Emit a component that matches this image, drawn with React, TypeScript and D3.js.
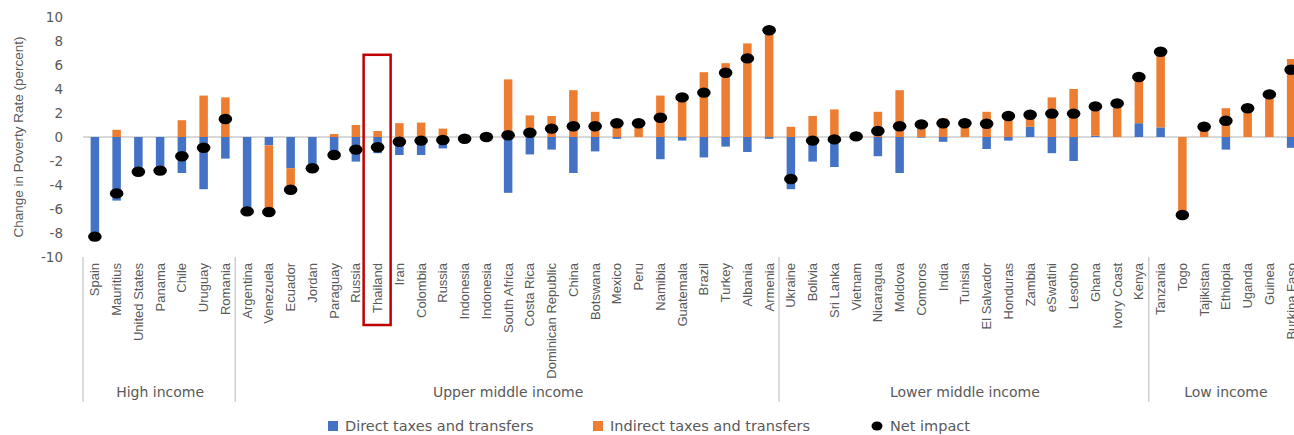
import React from 'react';
import * as d3 from 'd3';

// country order as it appears on the axis (duplicates are kept as in the source)
const categories = [
  'Spain', 'Mauritius', 'United States', 'Panama', 'Chile', 'Uruguay', 'Romania',
  'Argentina', 'Venezuela', 'Ecuador', 'Jordan', 'Paraguay', 'Russia', 'Thailand', 'Iran',
  'Colombia', 'Russia', 'Indonesia', 'Indonesia', 'South Africa', 'Costa Rica',
  'Dominican Republic', 'China', 'Botswana', 'Mexico', 'Peru', 'Namibia', 'Guatemala',
  'Brazil', 'Turkey', 'Albania', 'Armenia',
  'Ukraine', 'Bolivia', 'Sri Lanka', 'Vietnam', 'Nicaragua', 'Moldova', 'Comoros', 'India',
  'Tunisia', 'El Salvador', 'Honduras', 'Zambia', 'eSwatini', 'Lesotho', 'Ghana',
  'Ivory Coast', 'Kenya',
  'Tanzania', 'Togo', 'Tajikistan', 'Ethiopia', 'Uganda', 'Guinea', 'Burkina Faso',
];

const groupNames = ['High income', 'Upper middle income', 'Lower middle income', 'Low income'];
const groupSizes = [7, 25, 17, 7];

const direct = [
  -8.3, -5.3, -2.9, -2.8, -3.0, -4.35, -1.8,
  -6.2, -0.7, -2.6, -2.6, -1.7, -2.05, -1.35, -1.5,
  -1.5, -0.95, -0.2, -0.05, -4.65, -1.45,
  -1.05, -3.0, -1.2, -0.15, 0, -1.85, -0.3,
  -1.7, -0.8, -1.25, -0.15,
  -4.35, -2.05, -2.5, -0.05, -1.6, -3.0, -0.05, -0.4,
  0, -1.0, -0.3, 0.85, -1.35, -2.0, 0.1,
  0, 1.15,
  0.8, 0, 0, -1.05, 0, 0, -0.9,
];

const indirect = [
  0, 0.6, 0, 0, 1.4, 3.45, 3.3,
  0, -5.5, -1.8, 0, 0.25, 1.0, 0.5, 1.15,
  1.2, 0.7, 0.05, 0.05, 4.8, 1.8,
  1.75, 3.9, 2.1, 1.3, 1.15, 3.45, 3.6,
  5.4, 6.15, 7.8, 9.05,
  0.85, 1.75, 2.3, 0.1, 2.1, 3.9, 1.1, 1.55,
  1.15, 2.1, 2.05, 1.0, 3.3, 4.0, 2.45,
  2.8, 3.85,
  6.3, -6.5, 0.85, 2.4, 2.4, 3.55, 6.5,
];

const net = [
  -8.3, -4.7, -2.9, -2.8, -1.6, -0.9, 1.5,
  -6.2, -6.25, -4.4, -2.6, -1.5, -1.05, -0.85, -0.4,
  -0.3, -0.25, -0.15, 0.0, 0.15, 0.35,
  0.7, 0.9, 0.9, 1.15, 1.15, 1.6, 3.3,
  3.7, 5.35, 6.55, 8.9,
  -3.5, -0.3, -0.2, 0.05, 0.5, 0.9, 1.05, 1.15,
  1.15, 1.1, 1.75, 1.85, 1.95, 1.95, 2.55,
  2.8, 5.0,
  7.1, -6.5, 0.85, 1.35, 2.4, 3.55, 5.6,
];

const yTicks = [-10, -8, -6, -4, -2, 0, 2, 4, 6, 8, 10];

const seriesKeys = ['direct', 'indirect'];
const seriesLabels = ['Direct taxes and transfers', 'Indirect taxes and transfers'];
const seriesColors = ['#4472C4', '#ED7D31'];

const highlighted = 'Thailand';

const W = 1294;
const H = 435;
const grey = '#595959';

export default function App() {
  const idx = categories.map((_, i) => i);

  const x = d3.scaleBand<number>().domain(idx).range([84, 1302]).padding(0);
  const y = d3.scaleLinear().domain([-10, 10]).range([257, 17]);
  const bw = 8.5;
  const cx = (i: number) => (x(i) as number) + x.bandwidth() / 2;

  const rows = idx.map(i => ({ direct: direct[i], indirect: indirect[i] }));
  const stacked = d3.stack<any>().keys(seriesKeys).offset(d3.stackOffsetDiverging)(rows);

  // group boundaries along the x axis
  let acc = 0;
  const groups = groupNames.map((name, g) => {
    const start = acc;
    acc += groupSizes[g];
    return { name, start, end: acc };
  });
  const edge = (k: number) => (k < categories.length ? (x(k) as number) : x.range()[1]);

  const hi = categories.indexOf(highlighted);
  const legendY = 426;

  return (
    <svg width={W} height={H} style={{ position: 'absolute', left: 0, top: 0, background: '#fff' }}>
      {/* y axis title */}
      <text
        transform={`translate(18,${y(0)}) rotate(-90)`}
        textAnchor="middle"
        dominantBaseline="central"
        fontFamily="Liberation Sans, Arial, sans-serif"
        fontSize={13.5}
        fill={grey}
      >
        Change in Poverty Rate (percent)
      </text>

      {/* y tick labels */}
      {yTicks.map(t => (
        <text
          key={t}
          x={63}
          y={y(t)}
          textAnchor="end"
          dominantBaseline="central"
          fontFamily="DejaVu Sans, sans-serif"
          fontSize={13.5}
          fill={grey}
        >
          {t}
        </text>
      ))}

      {/* zero line */}
      <line x1={83} x2={W} y1={y(0)} y2={y(0)} stroke="#D9D9D9" strokeWidth={1.8} />

      {/* stacked bars */}
      {stacked.map((s, si) => (
        <g key={s.key} fill={seriesColors[si]}>
          {s.map((d, i) => {
            const top = y(Math.max(d[0], d[1]));
            const bot = y(Math.min(d[0], d[1]));
            if (bot - top <= 0) return null;
            return <rect key={i} x={cx(i) - bw / 2} y={top} width={bw} height={bot - top} />;
          })}
        </g>
      ))}

      {/* net impact */}
      {net.map((v, i) => (
        <ellipse key={i} cx={cx(i)} cy={y(v)} rx={6.8} ry={5.2} fill="#000" />
      ))}

      {/* category labels */}
      {categories.map((c, i) => (
        <text
          key={i}
          transform={`translate(${cx(i)},263) rotate(-90)`}
          textAnchor="end"
          dominantBaseline="central"
          fontFamily="Liberation Sans, Arial, sans-serif"
          fontSize={13}
          fill={grey}
        >
          {c}
        </text>
      ))}

      {/* group separators and labels */}
      {groups.map(g => (
        <g key={g.name}>
          <line x1={edge(g.start) - 1} x2={edge(g.start) - 1} y1={257} y2={402} stroke="#D0D0D0" strokeWidth={1.5} />
          <text
            x={(edge(g.start) + edge(g.end)) / 2}
            y={392}
            textAnchor="middle"
            dominantBaseline="central"
            fontFamily="DejaVu Sans, sans-serif"
            fontSize={14}
            fill={grey}
          >
            {g.name}
          </text>
        </g>
      ))}

      {/* highlight box */}
      <rect
        x={cx(hi) - 14}
        y={y(6.85)}
        width={27}
        height={325 - y(6.85)}
        fill="none"
        stroke="#C00000"
        strokeWidth={2.5}
      />

      {/* legend */}
      <g fontFamily="DejaVu Sans, sans-serif" fontSize={14.5} fill={grey}>
        {seriesLabels.map((l, k) => {
          const lx = [328, 593][k];
          return (
            <g key={l}>
              <rect x={lx} y={legendY - 5} width={10} height={10} fill={seriesColors[k]} />
              <text x={lx + 17} y={legendY} dominantBaseline="central">{l}</text>
            </g>
          );
        })}
        <ellipse cx={877} cy={legendY} rx={5.5} ry={4.5} fill="#000" />
        <text x={890} y={legendY} dominantBaseline="central">Net impact</text>
      </g>
    </svg>
  );
}
